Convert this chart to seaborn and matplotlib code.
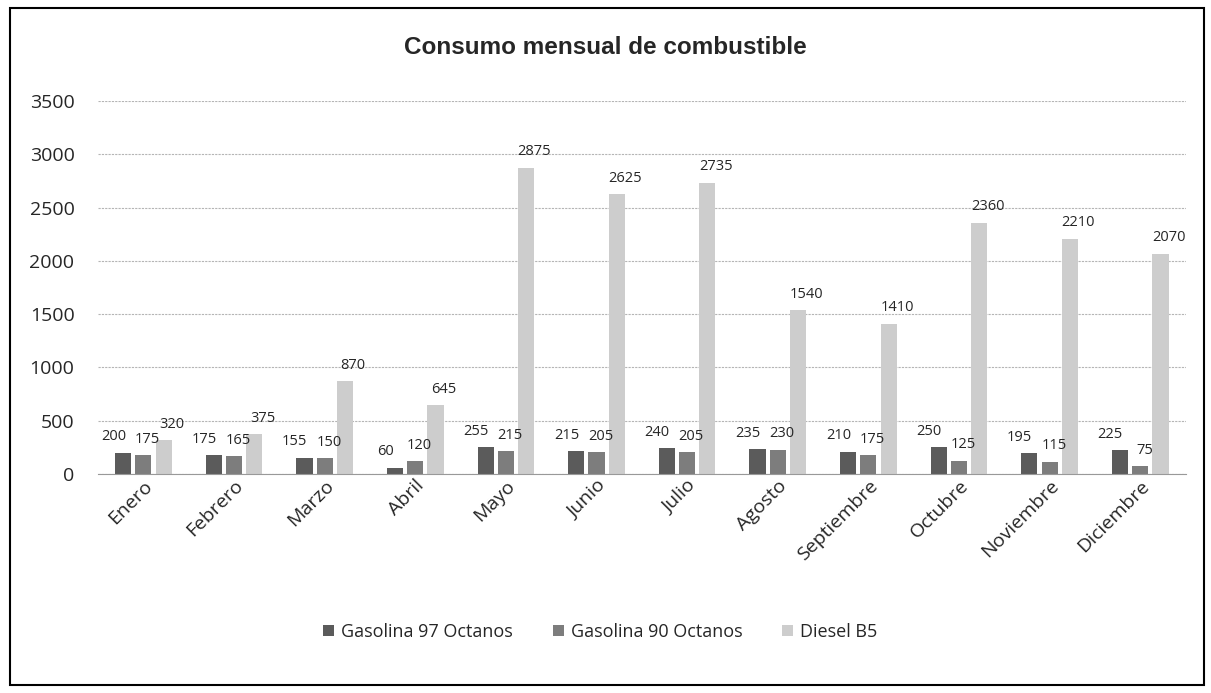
import matplotlib
matplotlib.use("Agg")
import matplotlib.pyplot as plt
import seaborn as sns
import pandas as pd
from matplotlib.patches import Rectangle

meses = ['Enero', 'Febrero', 'Marzo', 'Abril', 'Mayo', 'Junio', 'Julio',
         'Agosto', 'Septiembre', 'Octubre', 'Noviembre', 'Diciembre']
gasolina_97 = [200, 175, 155, 60, 255, 215, 240, 235, 210, 250, 195, 225]
gasolina_90 = [175, 165, 150, 120, 215, 205, 205, 230, 175, 125, 115, 75]
diesel_b5 = [320, 375, 870, 645, 2875, 2625, 2735, 1540, 1410, 2360, 2210, 2070]
series = ['Gasolina 97 Octanos', 'Gasolina 90 Octanos', 'Diesel B5']
colores = ['#5b5b5b', '#7d7d7d', '#cdcdcd']


def main():
    df = pd.DataFrame({'Mes': meses * 3,
                       'Combustible': [s for s in series for _ in meses],
                       'Litros': gasolina_97 + gasolina_90 + diesel_b5})

    sns.set_style("white")
    plt.rcParams['font.family'] = ['Open Sans', 'DejaVu Sans']

    fig = plt.figure(figsize=(12.11, 6.93), dpi=100)
    ax = fig.add_axes([0.081, 0.316, 0.898, 0.538])
    sns.barplot(data=df, x='Mes', y='Litros', hue='Combustible',
                palette=colores, width=0.67, gap=0.2, ax=ax,
                edgecolor='none', errorbar=None)

    ax.set_ylim(0, 3500)
    ax.set_yticks(range(0, 3501, 500))
    ax.yaxis.grid(True, color='#b5b5b5', linewidth=0.8, linestyle=(0, (2, 1)))
    ax.set_axisbelow(True)
    for s in ['top', 'right', 'left']:
        ax.spines[s].set_visible(False)
    ax.spines['bottom'].set_color('#999999')
    ax.set_xlabel('')
    ax.set_ylabel('')
    ax.tick_params(axis='y', labelsize=14, length=0, pad=17)
    ax.tick_params(axis='x', labelsize=14, length=0, pad=2)
    plt.setp(ax.get_xticklabels(), rotation=45, ha='right', rotation_mode='anchor')

    # etiquetas de datos, algo separadas para que no se encimen
    desplaz = [-7, 3, 6]
    for cont, dx in zip(ax.containers, desplaz):
        for bar in cont:
            h = bar.get_height()
            ax.annotate(f'{h:.0f}', (bar.get_x() + bar.get_width() / 2, h),
                        xytext=(dx, 6), textcoords='offset points',
                        ha='center', va='bottom', fontsize=10.5)

    ax.legend(loc='center', bbox_to_anchor=(0.462, -0.424), ncol=3,
              frameon=False, fontsize=13, handlelength=0.6, handleheight=0.6,
              columnspacing=2.2, handletextpad=0.4)

    fig.text(0.5, 0.932, 'Consumo mensual de combustible', ha='center',
             va='center', fontsize=17.5, fontweight='bold',
             family=['Liberation Sans', 'DejaVu Sans'])

    fig.patches.append(Rectangle((0.008, 0.012), 0.986, 0.976,
                                 transform=fig.transFigure, fill=False,
                                 edgecolor='black', linewidth=1.5))

    fig.savefig('out.png', dpi=100)


main()
